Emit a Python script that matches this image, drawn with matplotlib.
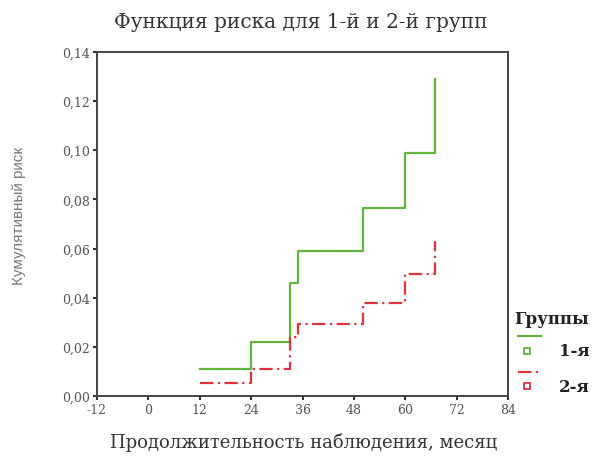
import matplotlib
matplotlib.use("Agg")
import matplotlib.pyplot as plt
from matplotlib.lines import Line2D
from matplotlib.ticker import FuncFormatter

# months of observation where the cumulative hazard steps up
times_g1 = [12, 24, 33, 35, 50, 60, 67]
risk_g1 = [0.011, 0.022, 0.046, 0.059, 0.0765, 0.099, 0.129]

times_g2 = [12, 24, 33, 35, 50, 60, 67]
risk_g2 = [0.0053, 0.011, 0.024, 0.0293, 0.038, 0.0497, 0.063]

group_labels = ["1-я", "2-я"]
x_ticks = [-12, 0, 12, 24, 36, 48, 60, 72, 84]
y_ticks = [0.00, 0.02, 0.04, 0.06, 0.08, 0.10, 0.12, 0.14]

green = "#62b43c"
red = "#e2323c"
red_style = (0, (6, 2, 1, 2))

plt.rcParams["font.family"] = ["DejaVu Serif"]
plt.rcParams["axes.unicode_minus"] = False

fig = plt.figure(figsize=(5.95, 4.60), dpi=100)
ax = fig.add_axes([0.163, 0.137, 0.691, 0.748])

ax.step(times_g1, risk_g1, where="post", color=green, lw=1.6)
ax.step(times_g2, risk_g2, where="post", color=red, lw=1.6, linestyle=red_style)

ax.set_xlim(-12, 84)
ax.set_ylim(0, 0.14)
ax.set_xticks(x_ticks)
ax.set_yticks(y_ticks)
ax.yaxis.set_major_formatter(FuncFormatter(lambda v, p: f"{v:.2f}".replace(".", ",")))
ax.tick_params(direction="out", length=3, width=1.5, color="#333333",
               labelsize=9, labelcolor="#555555", pad=2)
for s in ax.spines.values():
    s.set_color("#444444")
    s.set_linewidth(1.4)

fig.text(0.506, 0.952, "Функция риска для 1-й и 2-й групп", ha="center", va="center",
         fontsize=14.5, color="#333333")
fig.text(0.51, 0.038, "Продолжительность наблюдения, месяц", ha="center", va="center",
         fontsize=13, color="#333333")
fig.text(0.032, 0.53, "Кумулятивный риск", rotation=90, ha="center", va="center",
         fontsize=11, color="#777777", family="Liberation Sans")

# legend drawn by hand to mimic the SPSS layout
fig.text(0.865, 0.305, "Группы", ha="left", va="center", fontsize=12,
         fontweight="bold", color="#222222")
legend_rows = [(0.268, 0.235, green, "-"), (0.19, 0.158, red, red_style)]
for (ly, my, col, ls), lab in zip(legend_rows, group_labels):
    fig.add_artist(Line2D([0.87, 0.91], [ly, ly], color=col, lw=1.6, linestyle=ls,
                          transform=fig.transFigure))
    fig.add_artist(Line2D([0.886], [my], marker="s", ms=4, mfc="none", mec=col, mew=1.3,
                          linestyle="none", transform=fig.transFigure))
    fig.text(0.94, my, lab, ha="left", va="center", fontsize=12, fontweight="bold",
             color="#222222")

fig.savefig("out.png", dpi=100)
